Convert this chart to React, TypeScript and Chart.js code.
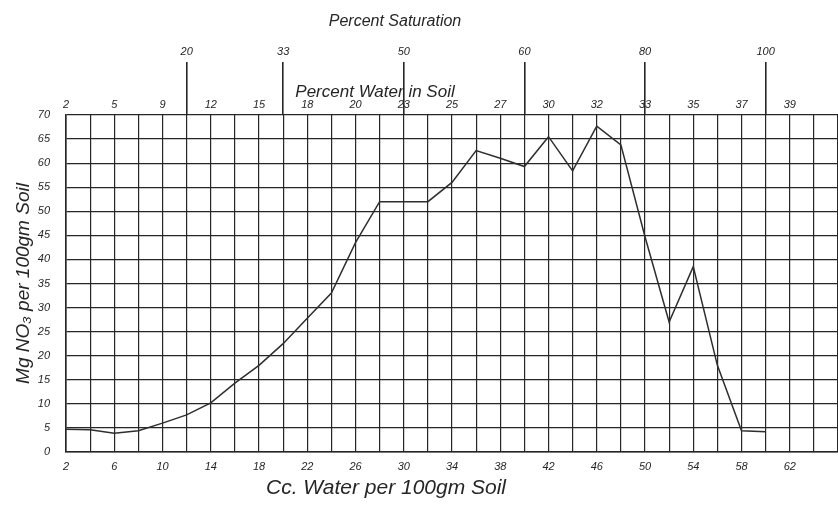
import React, { useEffect, useRef } from "react";
import { Chart, registerables } from "chart.js";

Chart.register(...registerables);

// Cc. water per 100 gm soil (x) and mg NO3 per 100 gm soil (y)
const ccWater = [2, 4, 6, 8, 10, 12, 14, 16, 18, 20, 22, 24, 26, 28, 30, 32, 34, 36, 38, 40, 42, 44, 46, 48, 50, 52, 54, 56, 58, 60];
const nitrate = [4.7, 4.6, 3.9, 4.4, 6.0, 7.7, 10.2, 14.3, 18.0, 22.5, 27.8, 33.0, 43.5, 52.0, 52.0, 52.0, 56.0, 62.6, 61.0, 59.3, 65.5, 58.4, 67.7, 63.8, 44.7, 27.0, 38.5, 18.0, 4.4, 4.2];

// bottom axis labels (cc water)
const bottomTickCc = [2, 6, 10, 14, 18, 22, 26, 30, 34, 38, 42, 46, 50, 54, 58, 62];
const bottomTickLabels = ["2", "6", "10", "14", "18", "22", "26", "30", "34", "38", "42", "46", "50", "54", "58", "62"];
// top axis labels (percent water in soil), at the same cc positions
const waterPctLabels = ["2", "5", "9", "12", "15", "18", "20", "23", "25", "27", "30", "32", "33", "35", "37", "39"];
// percent saturation marks
const saturationCc = [12, 20, 30, 40, 50, 60];
const saturationLabels = ["20", "33", "50", "60", "80", "100"];
// y ticks
const yMin = 0;
const yMax = 70;
const yStep = 5;
const xMin = 2;
const xMax = 66;
const xStep = 2;

const INK = "#262626";
const FONT = "'Liberation Sans', 'DejaVu Sans', sans-serif";

const titlesPlugin = {
  id: "freeTitles",
  afterDraw(chart: any) {
    const ctx = chart.ctx;
    ctx.save();
    ctx.fillStyle = INK;
    ctx.textAlign = "center";
    ctx.textBaseline = "middle";
    ctx.font = `italic 21px ${FONT}`;
    ctx.fillText("Cc. Water per 100gm Soil", 386, 488);
    ctx.font = `italic 17px ${FONT}`;
    ctx.fillText("Percent Water in Soil", 375, 92);
    ctx.font = `italic 16px ${FONT}`;
    ctx.fillText("Percent Saturation", 395, 22);
    ctx.restore();
  },
};

const noSidePad = (s: any) => {
  s.paddingLeft = 0;
  s.paddingRight = 0;
};

export default function App() {
  const ref = useRef<HTMLCanvasElement | null>(null);

  useEffect(() => {
    if (!ref.current) return;
    const tickFont = { family: FONT, size: 11, style: "italic" as const };
    const chart = new Chart(ref.current, {
      type: "line",
      data: {
        datasets: [
          {
            data: ccWater.map((x, i) => ({ x, y: nitrate[i] })),
            borderColor: "#2e2e2e",
            borderWidth: 1.5,
            pointRadius: 0,
            tension: 0,
            fill: false,
          },
        ],
      },
      options: {
        animation: false,
        responsive: true,
        maintainAspectRatio: false,
        layout: { padding: 0 },
        plugins: { legend: { display: false }, tooltip: { enabled: false } },
        scales: {
          x: {
            type: "linear",
            position: "bottom",
            min: xMin,
            max: xMax,
            ticks: {
              stepSize: xStep,
              autoSkip: false,
              maxRotation: 0,
              color: INK,
              font: tickFont,
              padding: 8,
              callback: (v: any) => {
                const i = bottomTickCc.indexOf(Number(v));
                return i >= 0 ? bottomTickLabels[i] : "";
              },
            },
            grid: { color: INK, lineWidth: 1.2, drawTicks: false },
            border: { color: INK, width: 1.6 },
            afterFit: (s: any) => {
              s.height = 53;
              noSidePad(s);
            },
          },
          x2: {
            type: "linear",
            position: "top",
            weight: 0,
            min: xMin,
            max: xMax,
            ticks: {
              stepSize: xStep,
              autoSkip: false,
              maxRotation: 0,
              color: INK,
              font: tickFont,
              padding: -17,
              callback: (v: any) => {
                const i = bottomTickCc.indexOf(Number(v));
                return i >= 0 ? waterPctLabels[i] : "";
              },
            },
            grid: {
              drawOnChartArea: false,
              drawTicks: true,
              tickLength: 20,
              lineWidth: 1.6,
              color: (c: any) =>
                c.tick && saturationCc.includes(c.tick.value) ? INK : "rgba(0,0,0,0)",
            },
            border: { display: false },
            afterFit: (s: any) => {
              s.height = 20;
              noSidePad(s);
            },
          },
          x3: {
            type: "linear",
            position: "top",
            weight: 1,
            min: xMin,
            max: xMax,
            afterBuildTicks: (s: any) => {
              s.ticks = saturationCc.map((value) => ({ value }));
            },
            ticks: {
              autoSkip: false,
              maxRotation: 0,
              color: INK,
              font: tickFont,
              padding: 3,
              callback: (v: any) => {
                const i = saturationCc.indexOf(Number(v));
                return i >= 0 ? saturationLabels[i] : "";
              },
            },
            grid: {
              drawOnChartArea: false,
              drawTicks: true,
              tickLength: 33,
              lineWidth: 1.6,
              color: INK,
            },
            border: { display: false },
            afterFit: (s: any) => {
              s.height = 95;
              noSidePad(s);
            },
          },
          y: {
            type: "linear",
            position: "left",
            min: yMin,
            max: yMax,
            ticks: {
              stepSize: yStep,
              color: INK,
              font: tickFont,
              padding: 16,
            },
            grid: { color: INK, lineWidth: 1.2, drawTicks: false },
            border: { color: INK, width: 1.6 },
            title: {
              display: true,
              text: "Mg NO₃ per 100gm Soil",
              color: INK,
              font: { family: FONT, size: 19, style: "italic" },
              padding: { top: 12, bottom: 0 },
            },
            afterFit: (s: any) => {
              s.width = 66;
              s.paddingTop = 0;
              s.paddingBottom = 0;
            },
          },
        },
      } as any,
      plugins: [titlesPlugin],
    });
    return () => chart.destroy();
  }, []);

  return (
    <div style={{ position: "fixed", left: 0, top: 0, width: 838, height: 505, background: "#ffffff" }}>
      <canvas ref={ref} />
    </div>
  );
}
